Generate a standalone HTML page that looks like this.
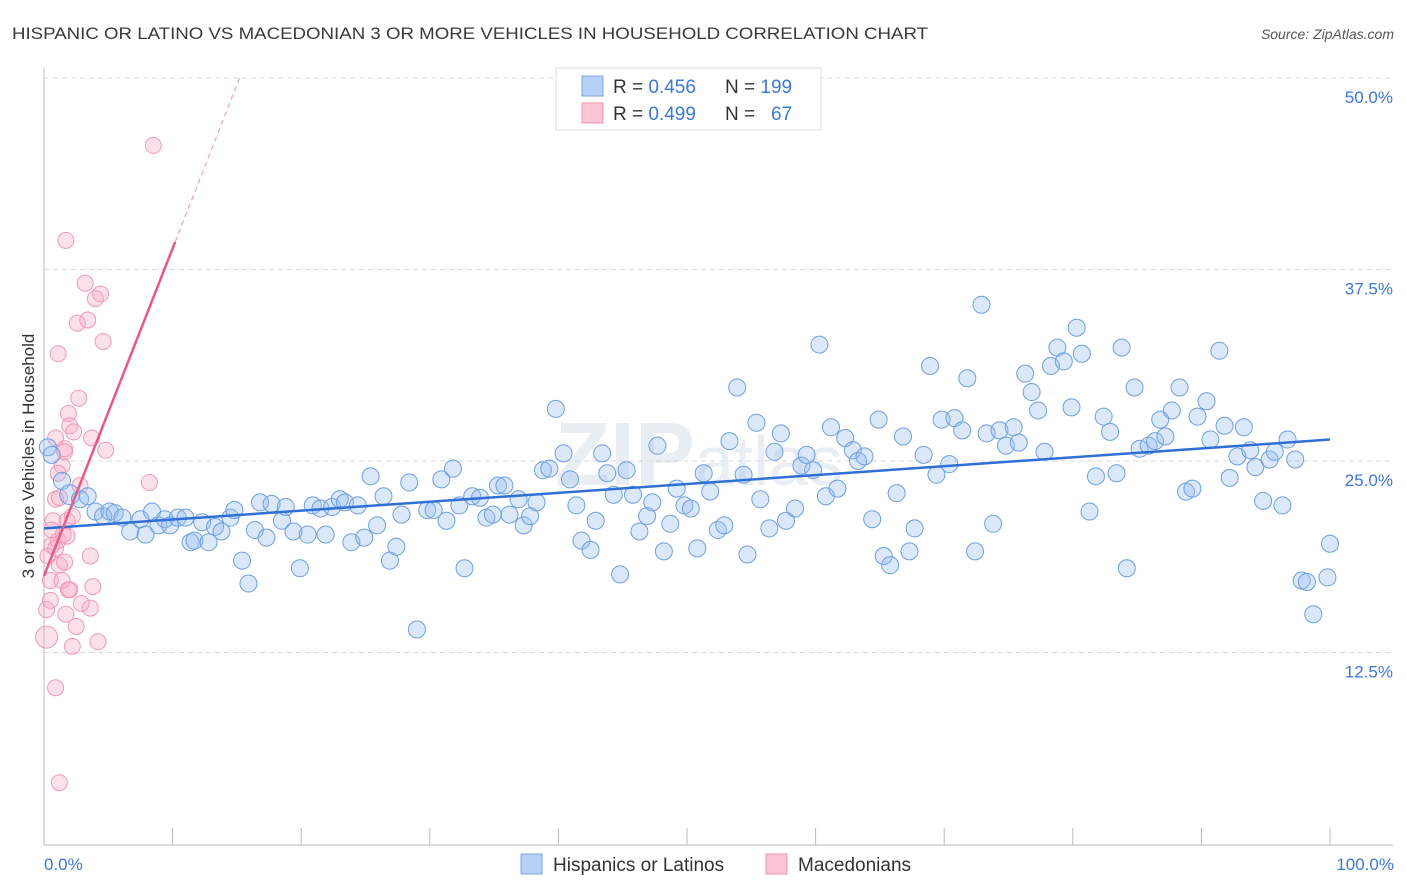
<!DOCTYPE html>
<html><head><meta charset="utf-8"><style>
body{margin:0;background:#fff;font-family:"Liberation Sans",sans-serif;}
svg{display:block}
</style></head><body>
<svg id="chart" width="1406" height="892" xmlns="http://www.w3.org/2000/svg">
<text x="12" y="39" font-size="17" fill="#3a3a3a" textLength="916" lengthAdjust="spacingAndGlyphs">HISPANIC OR LATINO VS MACEDONIAN 3 OR MORE VEHICLES IN HOUSEHOLD CORRELATION CHART</text>
<text x="1394" y="39" font-size="14" fill="#555" text-anchor="end" font-style="italic">Source: ZipAtlas.com</text>
<text x="555" y="485" font-size="90" fill="#e9eef4" font-weight="bold">ZIP<tspan font-weight="normal" font-size="70">atlas</tspan></text>
<g id="grid"></g>
<g id="axes"></g>
<g id="pinkpts"></g>
<g id="bluepts"></g>
<g id="trends"></g>
<text transform="translate(34,456) rotate(-90)" font-size="17" fill="#333" text-anchor="middle">3 or more Vehicles in Household</text>
<text x="44" y="870" font-size="17" fill="#3b78d8">0.0%</text>
<text x="1394" y="870" font-size="17" fill="#3b78d8" text-anchor="end">100.0%</text>
<g>
<rect x="556" y="68" width="265" height="62" fill="#fff" stroke="#ddd"/>
<rect x="582" y="76" width="21" height="20" fill="#b7d0f5" stroke="#7aa6e8"/>
<rect x="582" y="103" width="21" height="20" fill="#fcc6d5" stroke="#f093ae"/>
<text x="613" y="93" font-size="19" fill="#333">R = <tspan fill="#3b78d8">0.456</tspan><tspan x="725">N = </tspan><tspan fill="#3b78d8">199</tspan></text>
<text x="613" y="120" font-size="19" fill="#333">R = <tspan fill="#3b78d8">0.499</tspan><tspan x="725">N = </tspan><tspan fill="#3b78d8" x="771">67</tspan></text>
</g>
<g>
<rect x="521" y="854" width="21" height="20" fill="#b7d0f5" stroke="#7aa6e8"/>
<text x="553" y="871" font-size="19" fill="#333">Hispanics or Latinos</text>
<rect x="766" y="854" width="21" height="20" fill="#fcc6d5" stroke="#f093ae"/>
<text x="798" y="871" font-size="19" fill="#333">Macedonians</text>
</g>
</svg>
<script>
const yTicks=[12.5,25.0,37.5,50.0];
const xTicks=[0,10,20,30,40,50,60,70,80,90,100];
const blueX=[0.3,0.6,1.4,2.0,2.8,3.4,4.0,4.6,5.1,5.5,6.1,6.7,7.5,7.9,8.4,8.9,9.4,9.8,10.4,11.0,11.4,11.7,12.3,12.8,13.3,13.8,14.5,14.8,15.4,15.9,16.4,16.8,17.3,17.7,18.5,18.8,19.4,19.9,20.5,20.9,21.5,21.9,22.4,23.0,23.4,23.9,24.4,24.9,25.4,25.9,26.4,26.9,27.4,27.8,28.4,29.0,29.8,30.3,30.9,31.3,31.8,32.3,32.7,33.3,33.9,34.4,34.9,35.3,35.8,36.2,36.9,37.3,37.8,38.3,38.8,39.3,39.8,40.4,40.9,41.4,41.8,42.5,42.9,43.4,43.8,44.3,44.8,45.3,45.8,46.3,46.9,47.3,47.7,48.2,48.7,49.2,49.8,50.3,50.8,51.3,51.8,52.4,52.9,53.3,53.9,54.4,54.7,55.4,55.7,56.4,56.8,57.3,57.7,58.4,58.9,59.3,59.8,60.3,60.8,61.2,61.7,62.3,62.9,63.3,63.8,64.4,64.9,65.3,65.8,66.3,66.8,67.3,67.7,68.4,68.9,69.4,69.8,70.4,70.8,71.4,71.8,72.4,72.9,73.3,73.8,74.3,74.8,75.4,75.8,76.3,76.8,77.3,77.8,78.3,78.8,79.3,79.9,80.3,80.7,81.3,81.8,82.4,82.9,83.4,83.8,84.2,84.8,85.2,85.9,86.4,86.8,87.2,87.7,88.3,88.8,89.3,89.7,90.4,90.7,91.4,91.8,92.2,92.8,93.3,93.8,94.2,94.8,95.3,95.7,96.3,96.7,97.3,97.8,98.2,98.7,99.8,100];
const blueY=[25.9,25.4,23.7,22.8,22.5,22.7,21.7,21.4,21.7,21.6,21.3,20.4,21.2,20.2,21.7,20.8,21.2,20.8,21.3,21.3,19.7,19.8,21.0,19.7,20.7,20.4,21.3,21.8,18.5,17.0,20.5,22.3,20.0,22.2,21.1,22.0,20.4,18.0,20.2,22.1,21.9,20.2,22.0,22.5,22.3,19.7,22.1,20.0,24.0,20.8,22.7,18.5,19.4,21.5,23.6,14.0,21.8,21.8,23.8,21.1,24.5,22.1,18.0,22.7,22.6,21.3,21.5,23.4,23.4,21.5,22.5,20.8,21.4,22.3,24.4,24.5,28.4,25.5,23.8,22.1,19.8,19.2,21.1,25.5,24.2,22.8,17.6,24.4,22.8,20.4,21.4,22.3,26.0,19.1,20.9,23.2,22.1,21.9,19.3,24.2,23.0,20.5,20.8,26.3,29.8,24.1,18.9,27.5,22.5,20.6,25.6,26.8,21.1,21.9,24.7,25.4,24.4,32.6,22.7,27.2,23.2,26.5,25.7,25.0,25.3,21.2,27.7,18.8,18.2,22.9,26.6,19.1,20.6,25.4,31.2,24.1,27.7,24.8,27.8,27.0,30.4,19.1,35.2,26.8,20.9,27.0,26.0,27.2,26.2,30.7,29.5,28.3,25.6,31.2,32.4,31.5,28.5,33.7,32.0,21.7,24.0,27.9,26.9,24.2,32.4,18.0,29.8,25.8,26.0,26.3,27.7,26.6,28.3,29.8,23.0,23.2,27.9,28.9,26.4,32.2,27.3,23.9,25.3,27.2,25.7,24.6,22.4,25.1,25.6,22.1,26.4,25.1,17.2,17.1,15.0,17.4,19.6];
const pinkX=[0.2,0.2,0.5,0.6,0.7,0.9,1.1,0.9,1.2,1.4,1.6,1.7,1.9,2.0,2.3,2.5,2.6,2.7,2.9,3.2,3.4,3.6,3.7,3.8,4.0,4.2,4.4,4.6,4.8,8.2,8.5,3.6,2.2,0.3,0.9,1.1,1.2,1.5,1.6,1.8,1.9,0.9,1.4,0.5,2.0,1.1,1.2,2.8,1.7,1.6,0.6,1.8,2.2];
const pinkY=[13.5,15.3,17.2,19.5,21.1,26.5,32.0,10.2,4.0,24.7,25.8,39.4,28.1,27.3,26.9,14.2,34.0,29.1,15.7,36.6,34.2,15.4,26.5,16.8,35.6,13.2,35.9,32.8,25.7,23.6,45.6,18.8,12.9,18.8,19.3,19.8,18.2,20.2,18.4,21.1,16.6,22.5,17.2,15.9,16.6,24.2,22.6,23.4,15.0,25.6,20.5,20.1,21.4];
const blueTrend=[20.6,26.4];
const pinkTrend=[17.5,39.3,10.2];
const NS='http://www.w3.org/2000/svg';
const X0=44,X1=1330,YT=78,PX=15.32;
const sx=v=>X0+(X1-X0)*v/100;
const sy=v=>YT+(50-v)*PX;
function mk(tag,attrs,parent){const e=document.createElementNS(NS,tag);for(const k in attrs)e.setAttribute(k,attrs[k]);parent.appendChild(e);return e;}
const grid=document.getElementById('grid'),axes=document.getElementById('axes');
yTicks.forEach(t=>{
 const l=mk('line',{x1:X0,x2:1393,y1:sy(t),y2:sy(t),stroke:'#d8d8d8','stroke-dasharray':'5,4'},grid);
 
 
 const tx=mk('text',{x:1393,y:sy(t)+25,'font-size':17,fill:'#3b78d8','text-anchor':'end'},grid);
 tx.textContent=t.toFixed(1)+'%';
 
 
});
const ya=mk('line',{x1:X0,x2:X0,y1:68,y2:845,stroke:'#bbb'},axes);


const xa=mk('line',{x1:X0,x2:1393,y1:845,y2:845,stroke:'#bbb'},axes);


xTicks.forEach(t=>{
 const l=mk('line',{x1:sx(t),x2:sx(t),y1:828,y2:845,stroke:'#bbb'},axes);
 
 
});
const pg=document.getElementById('pinkpts');
pinkX.forEach((x,i)=>{
 const c=mk('circle',{cx:sx(x),cy:sy(pinkY[i]),r:i===0?11:8,fill:'rgba(248,170,195,0.35)',stroke:'#f29ab5','stroke-width':1},pg);
 
 
});
const bg=document.getElementById('bluepts');
blueX.forEach((x,i)=>{
 const c=mk('circle',{cx:sx(x),cy:sy(blueY[i]),r:i===3?10:8.5,fill:'rgba(150,188,240,0.35)',stroke:'#6e9fe3','stroke-width':1},bg);
 
 
});
const tg=document.getElementById('trends');
const bt=mk('line',{x1:sx(0),y1:sy(blueTrend[0]),x2:sx(100),y2:sy(blueTrend[1]),stroke:'#2f6fd6','stroke-width':2.5},tg);


const slope=(pinkTrend[1]-pinkTrend[0])/pinkTrend[2];
const pt=mk('line',{x1:sx(0),y1:sy(pinkTrend[0]),x2:sx(pinkTrend[2]),y2:sy(pinkTrend[1]),stroke:'#e8588a','stroke-width':2.5},tg);


const xe=(50-pinkTrend[0])/slope;
const pd=mk('line',{x1:sx(pinkTrend[2]),y1:sy(pinkTrend[1]),x2:sx(xe),y2:sy(50),stroke:'#f0a0b8','stroke-width':1.2,'stroke-dasharray':'5,4'},tg);


</script>
</body></html>
